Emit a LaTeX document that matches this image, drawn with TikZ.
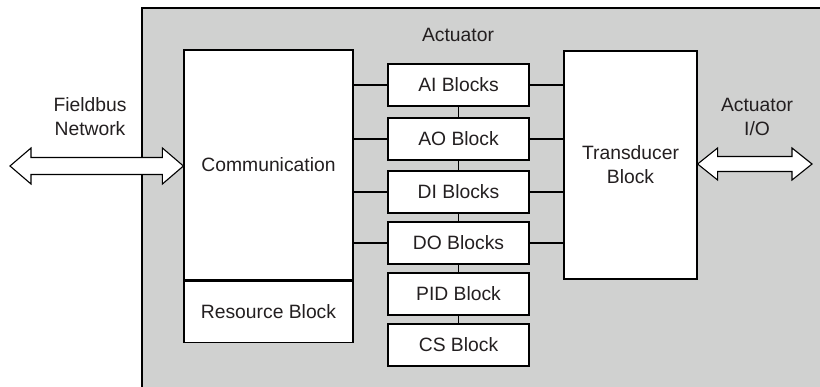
\documentclass[tikz,border=0pt]{standalone}
\usepackage{fontspec}
\setmainfont{Liberation Sans}
\usetikzlibrary{calc}
\definecolor{panel}{RGB}{208,209,208}
\definecolor{ink}{RGB}{35,31,32}
\tikzset{
  box/.style={draw=black, fill=white, line width=1.2pt, inner sep=0pt, text=ink,
    font=\fontsize{19.3}{24}\selectfont, align=center},
  mid/.style={box, minimum width=141pt, minimum height=42pt},
  link/.style={draw=black, line width=1.2pt},
  lbl/.style={text=ink, font=\fontsize{19.3}{24}\selectfont, align=center, inner sep=0pt},
  dbl/.style={draw=black, fill=white, line width=1.1pt, line join=miter}
}
\begin{document}
\begin{tikzpicture}[x=1pt,y=-1pt]
\clip (0,0) rectangle (820,386);
\useasboundingbox (0,0) rectangle (820,386);
\fill[white] (0,0) rectangle (820,386);
\draw[fill=panel, line width=1.2pt] (142,8) rectangle (840,400);
\node[lbl] (title) at (458,35) {Actuator};

% left column
\node[box, minimum width=169pt, minimum height=230pt] (comm) at (268.5,165) {Communication};
\node[box, minimum width=169pt, minimum height=61pt, anchor=north] (res) at (comm.south) {Resource Block};

% middle blocks
\node[mid] (ai)  at (458.5,85)  {AI Blocks};
\node[mid] (ao)  at (458.5,139) {AO Block};
\node[mid] (di)  at (458.5,192) {DI Blocks};
\node[mid] (do)  at (458.5,243) {DO Blocks};
\node[mid] (pid) at (458.5,294) {PID Block};
\node[mid] (cs)  at (458.5,345) {CS Block};

% transducer
\node[box, minimum width=133pt, minimum height=228pt] (tr) at (630.5,165) {Transducer\\Block};

% horizontal connectors
\foreach \b in {ai,ao,di,do}{
  \draw[link] (\b.west) -- (\b.west -| comm.east);
  \draw[link] (\b.east) -- (\b.east -| tr.west);
}
% vertical connectors
\draw[link] (ai.south) -- (ao.north);
\draw[link] (ao.south) -- (di.north);
\draw[link] (di.south) -- (do.north);
\draw[link] (do.south) -- (pid.north);
\draw[link] (pid.south) -- (cs.north);

% outer labels
\node[lbl] (fb) at (90,117) {Fieldbus\\Network};
\node[lbl] (aio) at (757,117) {Actuator\\I/O};

% left double arrow
\coordinate (fbend) at (10,166);
\coordinate (fbtip) at (comm.west |- fbend);
\draw[dbl] (fbend) -- ($(fbend)+(21,-18)$) -- ($(fbend)+(21,-8.5)$)
  -- ($(fbtip)+(-21,-8.5)$) -- ($(fbtip)+(-21,-18)$) -- (fbtip)
  -- ($(fbtip)+(-21,18)$) -- ($(fbtip)+(-21,8.5)$)
  -- ($(fbend)+(21,8.5)$) -- ($(fbend)+(21,18)$) -- cycle;

% right double arrow
\coordinate (ioend) at (812,164);
\coordinate (iotip) at (tr.east |- ioend);
\draw[dbl] (iotip) -- ($(iotip)+(20,-16)$) -- ($(iotip)+(20,-7.5)$)
  -- ($(ioend)+(-20,-7.5)$) -- ($(ioend)+(-20,-16)$) -- (ioend)
  -- ($(ioend)+(-20,16)$) -- ($(ioend)+(-20,7.5)$)
  -- ($(iotip)+(20,7.5)$) -- ($(iotip)+(20,16)$) -- cycle;
\end{tikzpicture}
\end{document}
